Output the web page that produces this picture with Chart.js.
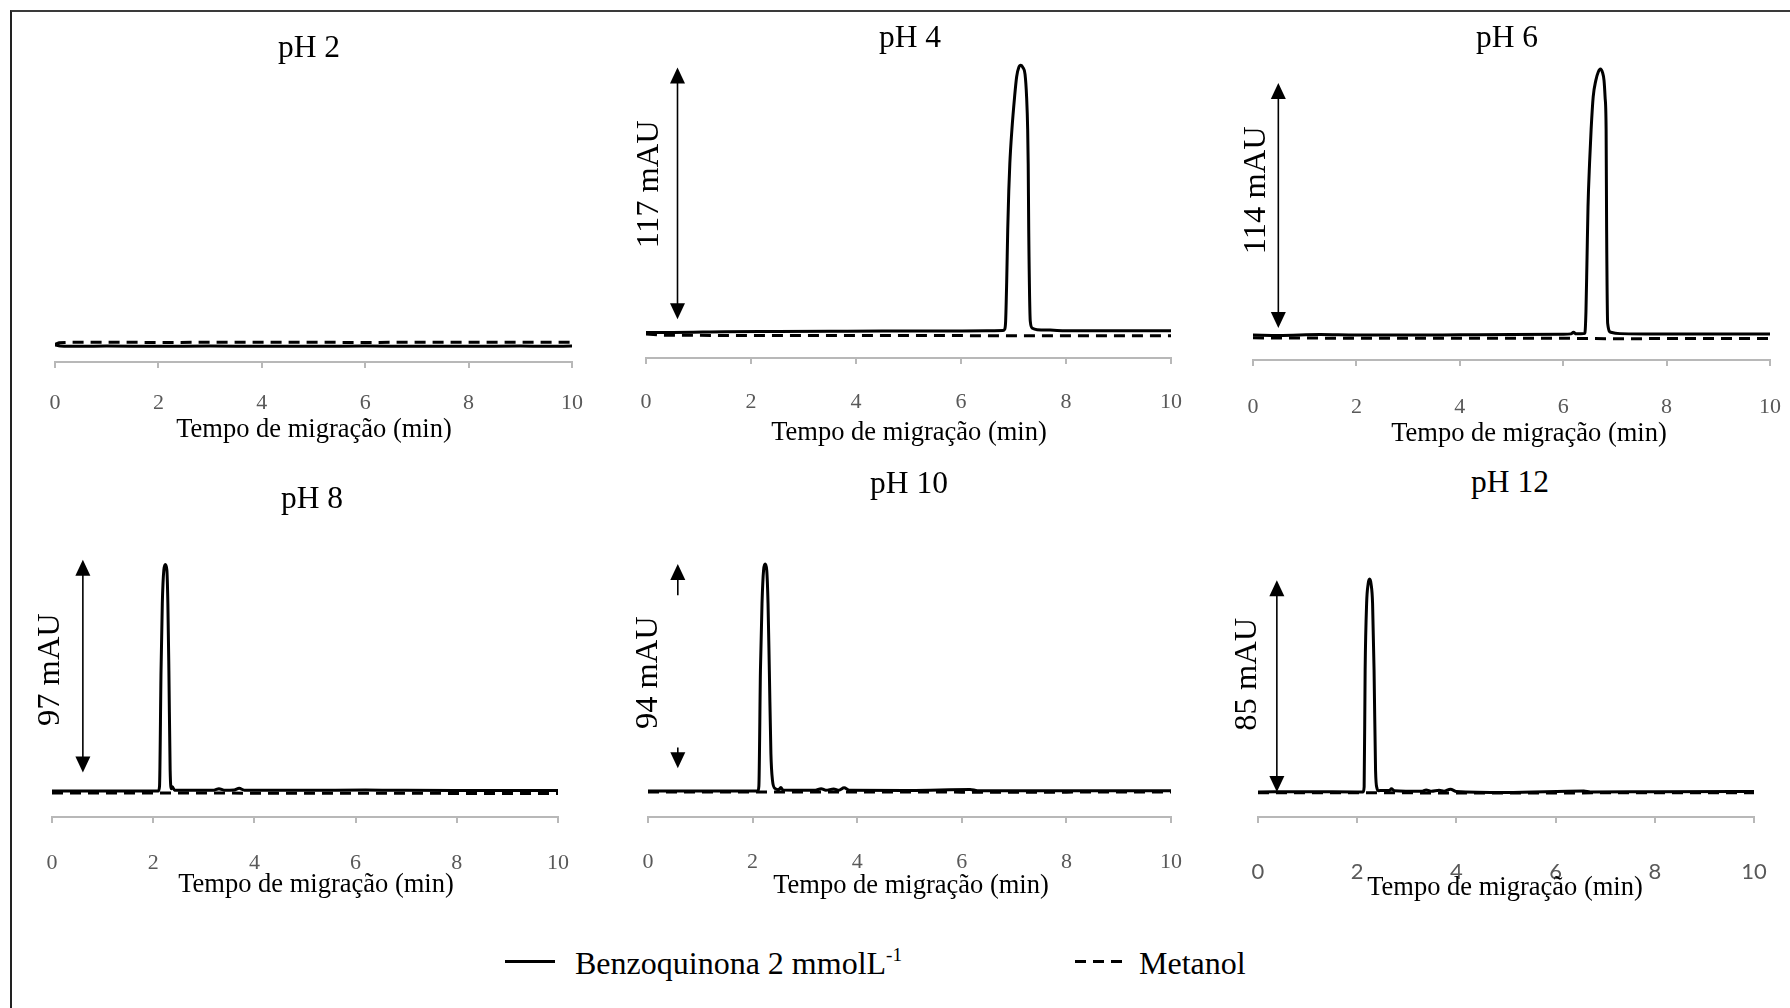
<!DOCTYPE html>
<html>
<head>
<meta charset="utf-8">
<script src="https://cdn.jsdelivr.net/npm/chart.js@4.4.1/dist/chart.umd.min.js"></script>
<style>
  body { margin: 0; background: #fff; width: 1790px; height: 1008px; overflow: hidden; position: relative; font-family: 'Liberation Serif', 'Times New Roman', serif; }
  #frame { position: absolute; left: 10px; top: 10px; width: 1790px; height: 1010px; border-top: 2px solid #3a3a3a; border-left: 2px solid #222; }
  canvas { position: absolute; }
  .txt { position: absolute; transform: translate(-50%, -50%); white-space: nowrap; line-height: 1; color: #000; }
  .title { font-size: 31.5px; }
  .xtitle { font-size: 26.5px; }
  #legend { position: absolute; left: 0; top: 0; }
  .leg-solid { position: absolute; left: 505px; top: 960px; width: 50px; height: 3px; background: #000; }
  .leg-dash { position: absolute; top: 960px; width: 11px; height: 3px; background: #000; }
  .leg-text { position: absolute; top: 963px; transform: translateY(-50%); white-space: nowrap; line-height: 1; font-size: 32px; }
  .leg-text sup { font-size: 0.6em; vertical-align: top; position: relative; top: -2px; }
</style>
</head>
<body>
<div id="frame"></div>

<canvas id="ph2"></canvas>
<canvas id="ph4"></canvas>
<canvas id="ph6"></canvas>
<canvas id="ph8"></canvas>
<canvas id="ph10"></canvas>
<canvas id="ph12"></canvas>

<div class="txt title" style="left:309px; top:47px;">pH 2</div>
<div class="txt title" style="left:910px; top:37px;">pH 4</div>
<div class="txt title" style="left:1507px; top:37px;">pH 6</div>
<div class="txt title" style="left:312px; top:498px;">pH 8</div>
<div class="txt title" style="left:909px; top:483px;">pH 10</div>
<div class="txt title" style="left:1510px; top:482px;">pH 12</div>

<div class="txt xtitle" style="left:314px; top:428px;">Tempo de migração (min)</div>
<div class="txt xtitle" style="left:909px; top:431px;">Tempo de migração (min)</div>
<div class="txt xtitle" style="left:1529px; top:432px;">Tempo de migração (min)</div>
<div class="txt xtitle" style="left:316px; top:883px;">Tempo de migração (min)</div>
<div class="txt xtitle" style="left:911px; top:884px;">Tempo de migração (min)</div>
<div class="txt xtitle" style="left:1505px; top:886px;">Tempo de migração (min)</div>

<div id="legend">
  <div class="leg-solid"></div>
  <div class="leg-text" style="left:575px;">Benzoquinona 2 mmolL<sup>-1</sup></div>
  <div class="leg-dash" style="left:1075px;"></div>
  <div class="leg-dash" style="left:1093px;"></div>
  <div class="leg-dash" style="left:1111px;"></div>
  <div class="leg-text" style="left:1139px;">Metanol</div>
</div>

<script>
// Peak heights (mAU) written next to each arrow
const ph4Peak = 117;
const ph6Peak = 114;
const ph8Peak = 97;
const ph10Peak = 94;
const ph12Peak = 85;

// pH 2 - no peak, both traces flat
const ph2Time = [0, 0.1, 0.5, 1, 2, 3, 4, 5, 6, 7, 8, 9, 9.5, 10];
const ph2Benzo = [0.6, 0.2, 0, 0.1, 0, 0.1, 0, 0, 0.1, 0, 0, 0.1, 0, 0.1];
const ph2MetTime = [0, 0.08, 0.3, 2, 4, 6, 8, 10];
const ph2Metanol = [0.8, 1.6, 1.8, 1.7, 1.8, 1.7, 1.8, 1.8];

// pH 4
const ph4Time = [0, 0.5, 1.5, 2.5, 3.5, 4.5, 5.5, 6.5, 6.8, 6.83, 6.85, 6.87, 6.89, 6.91, 6.93, 6.97, 7.02, 7.06, 7.10, 7.14,
  7.18, 7.22, 7.25, 7.27, 7.28, 7.29, 7.32, 7.36, 7.45, 7.7, 8, 9, 10];
const ph4Benzo = [0.2, 0.2, 0.5, 0.6, 0.7, 0.8, 0.8, 0.9, 1.0, 1.5, 5, 22, 45, 62, 74, 89, 103, 112, 116, ph4Peak,
  116, 113, 103, 89, 74, 45, 5, 2, 1.4, 1.2, 0.9, 0.9, 0.9];
const ph4MetTime = [0, 0.3, 2, 4, 6, 7, 8, 10];
const ph4Metanol = [-0.5, -1.0, -1.2, -1.2, -1.2, -1.3, -1.3, -1.3];

// pH 6
const ph6Time = [0, 0.5, 1.3, 2, 3, 4, 5, 6, 6.15, 6.2, 6.25, 6.4, 6.42, 6.44, 6.46, 6.48, 6.51, 6.54, 6.58, 6.63, 6.68, 6.72,
  6.76, 6.79, 6.81, 6.83, 6.84, 6.86, 6.92, 7.1, 8, 9, 10];
const ph6Benzo = [0, -0.2, 0.2, 0, 0, 0.1, 0.2, 0.3, 0.5, 1.2, 0.5, 0.6, 1, 10, 32, 55, 73.6, 88, 102, 109, 112.8, ph6Peak,
  112.5, 109, 102, 88, 45, 5, 1.2, 0.6, 0.4, 0.4, 0.4];
const ph6MetTime = [0, 2, 4, 6, 6.5, 7, 8, 10];
const ph6Metanol = [-1.2, -1.4, -1.4, -1.4, -1.5, -1.6, -1.5, -1.5];

// pH 8
const ph8Time = [0, 1, 2, 2.1, 2.125, 2.155, 2.18, 2.21, 2.24, 2.27, 2.29, 2.31, 2.335, 2.36, 2.38, 2.42,
  2.6, 3.2, 3.3, 3.4, 3.6, 3.7, 3.8, 5, 6.2, 7, 8, 9, 10];
const ph8Benzo = [0, 0, 0, 0, 2, 51.7, 80.3, 94.6, ph8Peak, 94.6, 80.3, 51.7, 8.9, 1, 1.8, 0.4,
  0.3, 0.4, 1.0, 0.4, 0.5, 1.2, 0.4, 0.3, 0.5, 0.3, 0.2, 0.2, 0.2];
const ph8MetTime = [0, 2, 4, 6, 8, 10];
const ph8Metanol = [-0.8, -0.8, -0.9, -0.9, -1.0, -1.0];

// pH 10
const ph10Time = [0, 1, 2, 2.1, 2.12, 2.15, 2.18, 2.21, 2.24, 2.27, 2.295, 2.32, 2.35, 2.38, 2.43,
  2.5, 2.54, 2.58, 3.2, 3.31, 3.4, 3.55, 3.65, 3.75, 3.85, 5, 6.16, 6.3, 8, 10];
const ph10Benzo = [0, 0, 0, 0, 2, 50, 77.7, 91.5, ph10Peak, 91.5, 77.7, 50, 15.5, 4.4, 1,
  0.5, 1.4, 0.4, 0.3, 0.9, 0.3, 0.8, 0.3, 1.3, 0.3, 0.2, 0.6, 0.1, 0.1, 0.1];
const ph10MetTime = [0, 2, 4, 6, 8, 10];
const ph10Metanol = [-0.4, -0.4, -0.4, -0.5, -0.5, -0.4];

// pH 12
const ph12Time = [0, 1, 2, 2.12, 2.14, 2.16, 2.19, 2.22, 2.25, 2.28, 2.31, 2.34, 2.37, 2.4, 2.43,
  2.5, 2.65, 2.69, 2.75, 3.3, 3.39, 3.5, 3.65, 3.75, 3.88, 4.0, 5, 6.57, 6.7, 8, 10];
const ph12Benzo = [0, 0.1, 0, 0, 2, 48.6, 75.3, 83, ph12Peak, 83, 75.3, 48.6, 8.7, 1.4, 0.5,
  0.6, 0.6, 1.3, 0.5, 0.3, 0.8, 0.3, 0.7, 0.3, 1.1, 0.2, -0.2, 0.4, 0, 0.1, 0.2];
const ph12MetTime = [0, 5, 10];
const ph12Metanol = [-0.3, -0.4, -0.3];

const xTicks = [0, 2, 4, 6, 8, 10];

const toPoints = (t, v) => t.map((x, i) => ({ x: x, y: v[i] }));

// double-headed (or split) arrow marking the peak height, with the rotated mAU label
const arrowPlugin = {
  id: 'mauArrow',
  afterDatasetsDraw(chart, args, opts) {
    if (!opts.segments) return;
    const ctx = chart.ctx;
    const xs = chart.scales.x, ys = chart.scales.y;
    const px = xs.getPixelForValue(opts.at);
    ctx.save();
    ctx.strokeStyle = '#000';
    ctx.fillStyle = '#000';
    ctx.lineWidth = 1.6;
    const head = (tipY, dir) => {
      ctx.beginPath();
      ctx.moveTo(px, tipY);
      ctx.lineTo(px - 7.5, tipY + dir * 16);
      ctx.lineTo(px + 7.5, tipY + dir * 16);
      ctx.closePath();
      ctx.fill();
    };
    opts.segments.forEach(s => {
      const y1 = ys.getPixelForValue(s.from);
      const y2 = ys.getPixelForValue(s.to);
      const d = y2 < y1 ? 1 : -1;
      ctx.beginPath();
      ctx.moveTo(px, s.startHead ? y1 - d * 10 : y1);
      ctx.lineTo(px, s.endHead ? y2 + d * 10 : y2);
      ctx.stroke();
      if (s.endHead) head(y2, d);
      if (s.startHead) head(y1, -d);
    });
    ctx.translate(px + opts.labelDx, ys.getPixelForValue(opts.labelAt));
    ctx.rotate(-Math.PI / 2);
    ctx.font = '32.5px "Liberation Serif"';
    ctx.textAlign = 'center';
    ctx.textBaseline = 'middle';
    ctx.fillText(opts.label, 0, 0);
    ctx.restore();
  }
};

const PAD = 50;
const AXIS_H = 70;

function makePanel(cfg) {
  const canvas = document.getElementById(cfg.id);
  const w = cfg.right - cfg.left + 2 * PAD;
  const h = cfg.axisY - cfg.top + AXIS_H;
  canvas.width = w;
  canvas.height = h;
  canvas.style.left = (cfg.left - PAD) + 'px';
  canvas.style.top = cfg.top + 'px';

  new Chart(canvas.getContext('2d'), {
    type: 'line',
    data: {
      datasets: [
        {
          label: 'Benzoquinona 2 mmolL-1',
          data: toPoints(cfg.benzo[0], cfg.benzo[1]),
          borderColor: '#000',
          borderWidth: 3,
          cubicInterpolationMode: 'monotone',
          pointRadius: 0
        },
        {
          label: 'Metanol',
          data: toPoints(cfg.metanol[0], cfg.metanol[1]),
          borderColor: '#000',
          borderWidth: 3,
          borderDash: [11, 7],
          pointRadius: 0
        }
      ]
    },
    options: {
      responsive: false,
      animation: false,
      layout: { padding: { left: PAD, right: PAD, top: 0, bottom: 0 } },
      plugins: {
        legend: { display: false },
        tooltip: { enabled: false },
        mauArrow: cfg.arrow || {}
      },
      scales: {
        x: {
          type: 'linear',
          min: 0,
          max: 10,
          afterBuildTicks: scale => { scale.ticks = xTicks.map(v => ({ value: v })); },
          afterFit: scale => { scale.height = AXIS_H; },
          border: { display: true, color: '#b8b8b8', width: 2 },
          grid: { drawOnChartArea: false, drawTicks: true, tickLength: 6, color: '#b8b8b8', lineWidth: 2 },
          ticks: {
            color: '#595959',
            padding: cfg.tickPad,
            maxRotation: 0,
            font: cfg.tickFont || { family: 'Liberation Serif', size: 22 }
          }
        },
        y: { display: false, min: cfg.yMin, max: cfg.yMax }
      }
    },
    plugins: [arrowPlugin]
  });
}

makePanel({
  id: 'ph2', left: 55, right: 572, top: 47, axisY: 362, yMin: -6.8, yMax: 130, tickPad: 22,
  benzo: [ph2Time, ph2Benzo], metanol: [ph2MetTime, ph2Metanol]
});

makePanel({
  id: 'ph4', left: 646, right: 1171, top: 47, axisY: 358, yMin: -11, yMax: 125, tickPad: 25,
  benzo: [ph4Time, ph4Benzo], metanol: [ph4MetTime, ph4Metanol],
  arrow: { at: 0.6, segments: [{ from: 6, to: 116, startHead: true, endHead: true }],
    label: ph4Peak + ' mAU', labelDx: -28, labelAt: 65 }
});

makePanel({
  id: 'ph6', left: 1253, right: 1770, top: 47, axisY: 360, yMin: -10.7, yMax: 123.4, tickPad: 28,
  benzo: [ph6Time, ph6Benzo], metanol: [ph6MetTime, ph6Metanol],
  arrow: { at: 0.49, segments: [{ from: 3, to: 108, startHead: true, endHead: true }],
    label: ph6Peak + ' mAU', labelDx: -22, labelAt: 62 }
});

makePanel({
  id: 'ph8', left: 52, right: 558, top: 500, axisY: 817, yMin: -11.1, yMax: 124.6, tickPad: 27,
  benzo: [ph8Time, ph8Benzo], metanol: [ph8MetTime, ph8Metanol],
  arrow: { at: 0.61, segments: [{ from: 8, to: 99, startHead: true, endHead: true }],
    label: ph8Peak + ' mAU', labelDx: -32, labelAt: 52 }
});

makePanel({
  id: 'ph10', left: 648, right: 1171, top: 500, axisY: 817, yMin: -10.8, yMax: 120.5, tickPad: 26,
  benzo: [ph10Time, ph10Benzo], metanol: [ph10MetTime, ph10Metanol],
  arrow: { at: 0.57, segments: [
      { from: 81, to: 94, startHead: false, endHead: true },
      { from: 18, to: 9.4, startHead: false, endHead: true }
    ],
    label: ph10Peak + ' mAU', labelDx: -29, labelAt: 49 }
});

makePanel({
  id: 'ph12', left: 1258, right: 1754, top: 500, axisY: 817, yMin: -10, yMax: 116.6, tickPad: 36,
  tickFont: { family: 'Lato', size: 22 },
  benzo: [ph12Time, ph12Benzo], metanol: [ph12MetTime, ph12Metanol],
  arrow: { at: 0.38, segments: [{ from: 0, to: 84.6, startHead: true, endHead: true }],
    label: ph12Peak + ' mAU', labelDx: -29, labelAt: 47 }
});
</script>
</body>
</html>
